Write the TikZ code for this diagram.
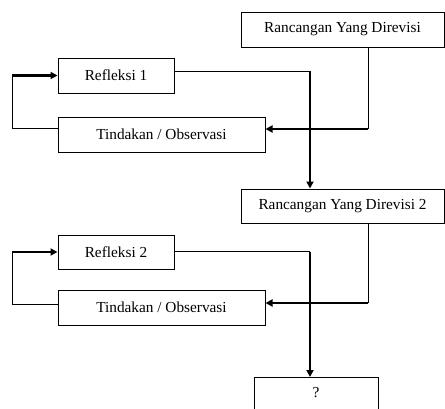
\documentclass[tikz,border=0pt]{standalone}
\usepackage{fontspec}
\setmainfont{Liberation Serif}
\usetikzlibrary{arrows.meta}
\begin{document}
\begin{tikzpicture}[x=1pt,y=-1pt,
  box/.style={draw, line width=1pt, inner sep=0pt, font=\fontsize{15.3}{18}\selectfont},
  thin/.style={line width=1pt},
  thick/.style={line width=2.2pt, -{Triangle[length=7pt,width=7pt]}}]
\useasboundingbox (0,0) rectangle (445,408);
\fill[white] (0,0) rectangle (445,408);
% boxes
\node[box, minimum width=203pt, minimum height=35pt] (ryd1) at (342.5,29.5) {Rancangan Yang Direvisi};
\node[box, minimum width=116pt, minimum height=35pt] (ref1) at (116,75.5) {Refleksi 1};
\node[box, minimum width=207pt, minimum height=35pt] (tin1) at (161.5,134.5) {Tindakan / Observasi};
\node[box, minimum width=203pt, minimum height=34pt] (ryd2) at (342.5,206) {Rancangan Yang Direvisi 2};
\node[box, minimum width=116pt, minimum height=34pt] (ref2) at (116,252) {Refleksi 2};
\node[box, minimum width=207pt, minimum height=35pt] (tin2) at (161.5,307.5) {Tindakan / Observasi};
\node[box, minimum width=124pt, minimum height=40pt, anchor=north, text depth=10pt] (q) at (316,377) {?};
% bend coordinates
\coordinate (l1a) at (12,128);
\coordinate (l1b) at (12,75.5);
\coordinate (r1) at (310,71);
\coordinate (d1) at (368,129);
\coordinate (l2a) at (12,304);
\coordinate (l2b) at (12,252);
\coordinate (r2) at (310,251.5);
\coordinate (d2) at (368,303);
% cycle 1
\draw[thin] ([yshift=6.5pt]tin1.west) -- (l1a) -- (l1b);
\draw[thick] (l1b) -- (ref1.west);
\draw[thin] ([yshift=4.5pt]ref1.east) -- (r1);
\draw[thick] (r1) -- (ryd2.north -| r1);
\draw[thin] (ryd1.south -| d1) -- (d1);
\draw[thick] (d1) -- (tin1.east |- d1);
% cycle 2
\draw[thin] ([yshift=3.5pt]tin2.west) -- (l2a) -- (l2b);
\draw[thick] (l2b) -- (ref2.west);
\draw[thin] (ref2.east |- r2) -- (r2);
\draw[thick] (r2) -- (q.north -| r2);
\draw[thin] (ryd2.south -| d2) -- (d2);
\draw[thick] (d2) -- (tin2.east |- d2);
\end{tikzpicture}
\end{document}
